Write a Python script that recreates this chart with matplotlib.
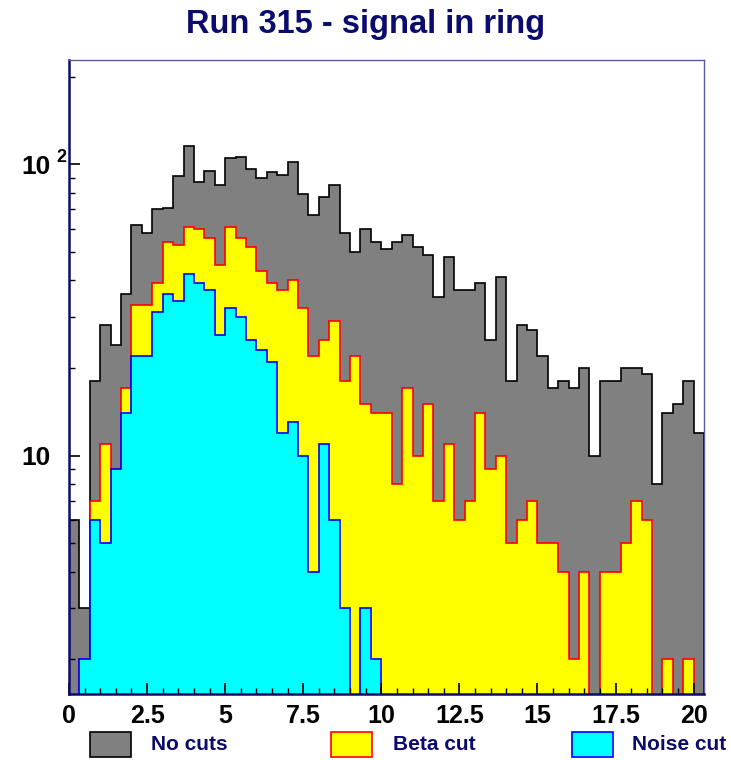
import numpy as np
import matplotlib
matplotlib.use("Agg")
import matplotlib.pyplot as plt
from matplotlib.patches import Rectangle
from matplotlib.ticker import FixedLocator, MultipleLocator

plt.rcParams['font.family'] = ['Liberation Sans', 'DejaVu Sans']
plt.rcParams['font.weight'] = 'bold'

# 61 bins of width 1/3 from 0 to 20.33
bin_edges = np.arange(62) / 3.0

no_cuts = [6, 3, 18, 28, 24, 36, 62, 58, 70, 71, 91,
           116, 87, 95, 85, 105, 106, 96, 90, 94, 92,
           102, 79, 67, 77, 85, 58, 50, 60, 54, 51,
           54, 57, 52, 49, 35, 48, 37, 37, 39, 25,
           41, 18, 28, 27, 22, 17, 18, 17, 20, 10,
           18, 18, 20, 20, 19, 8, 14, 15, 18, 12]
beta_cut = [0, 2, 7, 11, 9, 17, 33, 33, 39, 54, 53,
            61, 60, 56, 45, 61, 56, 52, 43, 39, 37,
            40, 32, 22, 25, 29, 18, 22, 15, 14, 14,
            8, 17, 10, 15, 7, 11, 6, 7, 14, 9,
            10, 5, 6, 7, 5, 5, 4, 2, 4, 0,
            4, 4, 5, 7, 6, 0, 2, 0, 2, 0]
noise_cut = [0, 2, 6, 5, 9, 14, 22, 22, 31, 36, 34,
             42, 39, 37, 26, 32, 30, 25, 23, 21, 12,
             13, 10, 4, 11, 6, 3, 0, 3, 2, 0,
             0, 0, 0, 0, 0, 0, 0, 0, 0, 0,
             0, 0, 0, 0, 0, 0, 0, 0, 0, 0,
             0, 0, 0, 0, 0, 0, 0, 0, 0, 0]

labels = ["No cuts", "Beta cut", "Noise cut"]
fills = ["#808080", "#ffff00", "#00ffff"]
edges = ["#000000", "#ff0000", "#0000ff"]
navy = "#0b0b6e"

W, H = 731, 760
fig = plt.figure(figsize=(W / 100, H / 100), dpi=100)
ax = fig.add_axes([69 / W, 1 - 694 / H, 635 / W, 634 / H])

floor = 0.01
for vals, fc, ec in zip([no_cuts, beta_cut, noise_cut], fills, edges):
    v = np.maximum(np.array(vals, dtype=float), floor)
    ax.stairs(v, bin_edges, fill=True, baseline=floor, facecolor=fc,
              edgecolor=ec, linewidth=1.2)

ax.set_yscale('log')
ax.set_xlim(0, 61 / 3.0)
ax.set_ylim(1.52, 228)

ax.xaxis.set_minor_locator(MultipleLocator(0.5))
ax.set_xticks([0, 2.5, 5, 7.5, 10, 12.5, 15, 17.5, 20])
ax.set_xticklabels(["0", "2.5", "5", "7.5", "10", "12.5", "15", "17.5", "20"])
ax.yaxis.set_major_locator(FixedLocator([10, 100]))
ax.yaxis.set_minor_locator(FixedLocator([2, 3, 4, 5, 6, 7, 8, 9,
                                         20, 30, 40, 50, 60, 70, 80, 90, 200]))
# ROOT style "10 ^2": base as tick label, exponent as separate text
ax.set_yticklabels(["10", "10"])

ax.tick_params(which='both', direction='in', colors='black', top=False, right=False)
ax.tick_params(which='major', length=8, width=1.2, pad=7)
ax.tick_params(which='minor', length=4, width=1.0)
ax.tick_params(axis='x', which='major', labelsize=18)
ax.tick_params(axis='y', which='major', labelsize=19, pad=13)
for lab in ax.get_xticklabels() + ax.get_yticklabels():
    lab.set_fontweight('bold')

fig.text(56 / W, 1 - 162 / H, "2", ha='left', va='baseline',
         fontsize=13, fontweight='bold', color='black')

for side in ['left', 'bottom']:
    ax.spines[side].set_color(navy)
    ax.spines[side].set_linewidth(1.8)
for side in ['top', 'right']:
    ax.spines[side].set_color("#5a5aa0")
    ax.spines[side].set_linewidth(1.0)

fig.text(366 / W, 1 - 33 / H, "Run 315 - signal in ring", ha='center', va='baseline',
         fontsize=23.5, fontweight='bold', color=navy)

# legend row under the axis
box_x = [90, 331, 572]
text_x = [151, 393, 632]
for bx, tx, lab, fc, ec in zip(box_x, text_x, labels, fills, edges):
    fig.patches.append(Rectangle((bx / W, 1 - 757 / H), 41 / W, 25 / H,
                                 transform=fig.transFigure, facecolor=fc,
                                 edgecolor=ec, linewidth=1.2))
    fig.text(tx / W, 1 - 745 / H, lab, ha='left', va='center',
             fontsize=15, fontweight='bold', color=navy)

fig.savefig("out.png", dpi=100)
